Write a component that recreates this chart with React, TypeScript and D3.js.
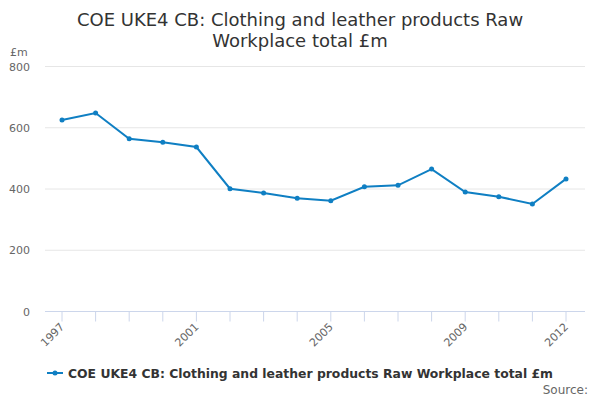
import React from "react";
import * as d3 from "d3";

const years = [1997, 1998, 1999, 2000, 2001, 2002, 2003, 2004, 2005, 2006, 2007, 2008, 2009, 2010, 2011, 2012];
const values = [625, 648, 564, 553, 537, 401, 387, 370, 362, 407, 412, 465, 390, 375, 351, 433];
const yTicks = [0, 200, 400, 600, 800];
const xLabelYears = [1997, 2001, 2005, 2009, 2012];
const titleLines = ["COE UKE4 CB: Clothing and leather products Raw", "Workplace total £m"];
const seriesName = "COE UKE4 CB: Clothing and leather products Raw Workplace total £m";

export default function App() {
  const W = 600, H = 400;
  const left = 45, right = 585, top = 66.5, bottom = 311.5;
  const x = d3.scaleLinear().domain([1997, 2012]).range([62, 566]);
  const y = d3.scaleLinear().domain([0, 800]).range([bottom, top]);
  const line = d3.line<number>().x((_, i) => x(years[i])).y((d) => y(d));
  const font = "DejaVu Sans, Verdana, sans-serif";
  const color = "#0f7fc3";
  return (
    <svg width={W} height={H} style={{ position: "absolute", left: 0, top: 0, fontFamily: font }}>
      <rect width={W} height={H} fill="#fff" />
      {titleLines.map((t, i) => (
        <text key={i} x={300} y={26 + i * 21} textAnchor="middle" fontSize={18} fill="#333">{t}</text>
      ))}
      <text x={10} y={56} fontSize={11} fill="#666">£m</text>
      {yTicks.map((t) => (
        <g key={t}>
          {t > 0 && <line x1={left} x2={right} y1={y(t)} y2={y(t)} stroke="#e6e6e6" strokeWidth={1} />}
          <text x={30} y={y(t) + 4} textAnchor="end" fontSize={11} fill="#666">{t}</text>
        </g>
      ))}
      <line x1={left} x2={right} y1={bottom} y2={bottom} stroke="#ccd6eb" strokeWidth={1} />
      {years.map((yr) => (
        <line key={yr} x1={x(yr)} x2={x(yr)} y1={bottom} y2={bottom + 10} stroke="#ccd6eb" strokeWidth={1} />
      ))}
      {xLabelYears.map((yr) => (
        <text key={yr} transform={`translate(${x(yr) + 3},${bottom + 16}) rotate(-45)`} textAnchor="end" fontSize={11} fill="#666">{yr}</text>
      ))}
      <path d={line(values) || ""} fill="none" stroke={color} strokeWidth={2} />
      {values.map((v, i) => (
        <circle key={i} cx={x(years[i])} cy={y(v)} r={2.5} fill={color} />
      ))}
      <g>
        <line x1={47} x2={63} y1={373} y2={373} stroke={color} strokeWidth={2} />
        <circle cx={55} cy={373} r={2.5} fill={color} />
        <text x={68} y={378} fontSize={12.5} fontWeight="bold" fill="#333" textLength={485} lengthAdjust="spacingAndGlyphs">{seriesName}</text>
      </g>
      <text x={588} y={394} textAnchor="end" fontSize={12} fill="#666">Source:</text>
    </svg>
  );
}
